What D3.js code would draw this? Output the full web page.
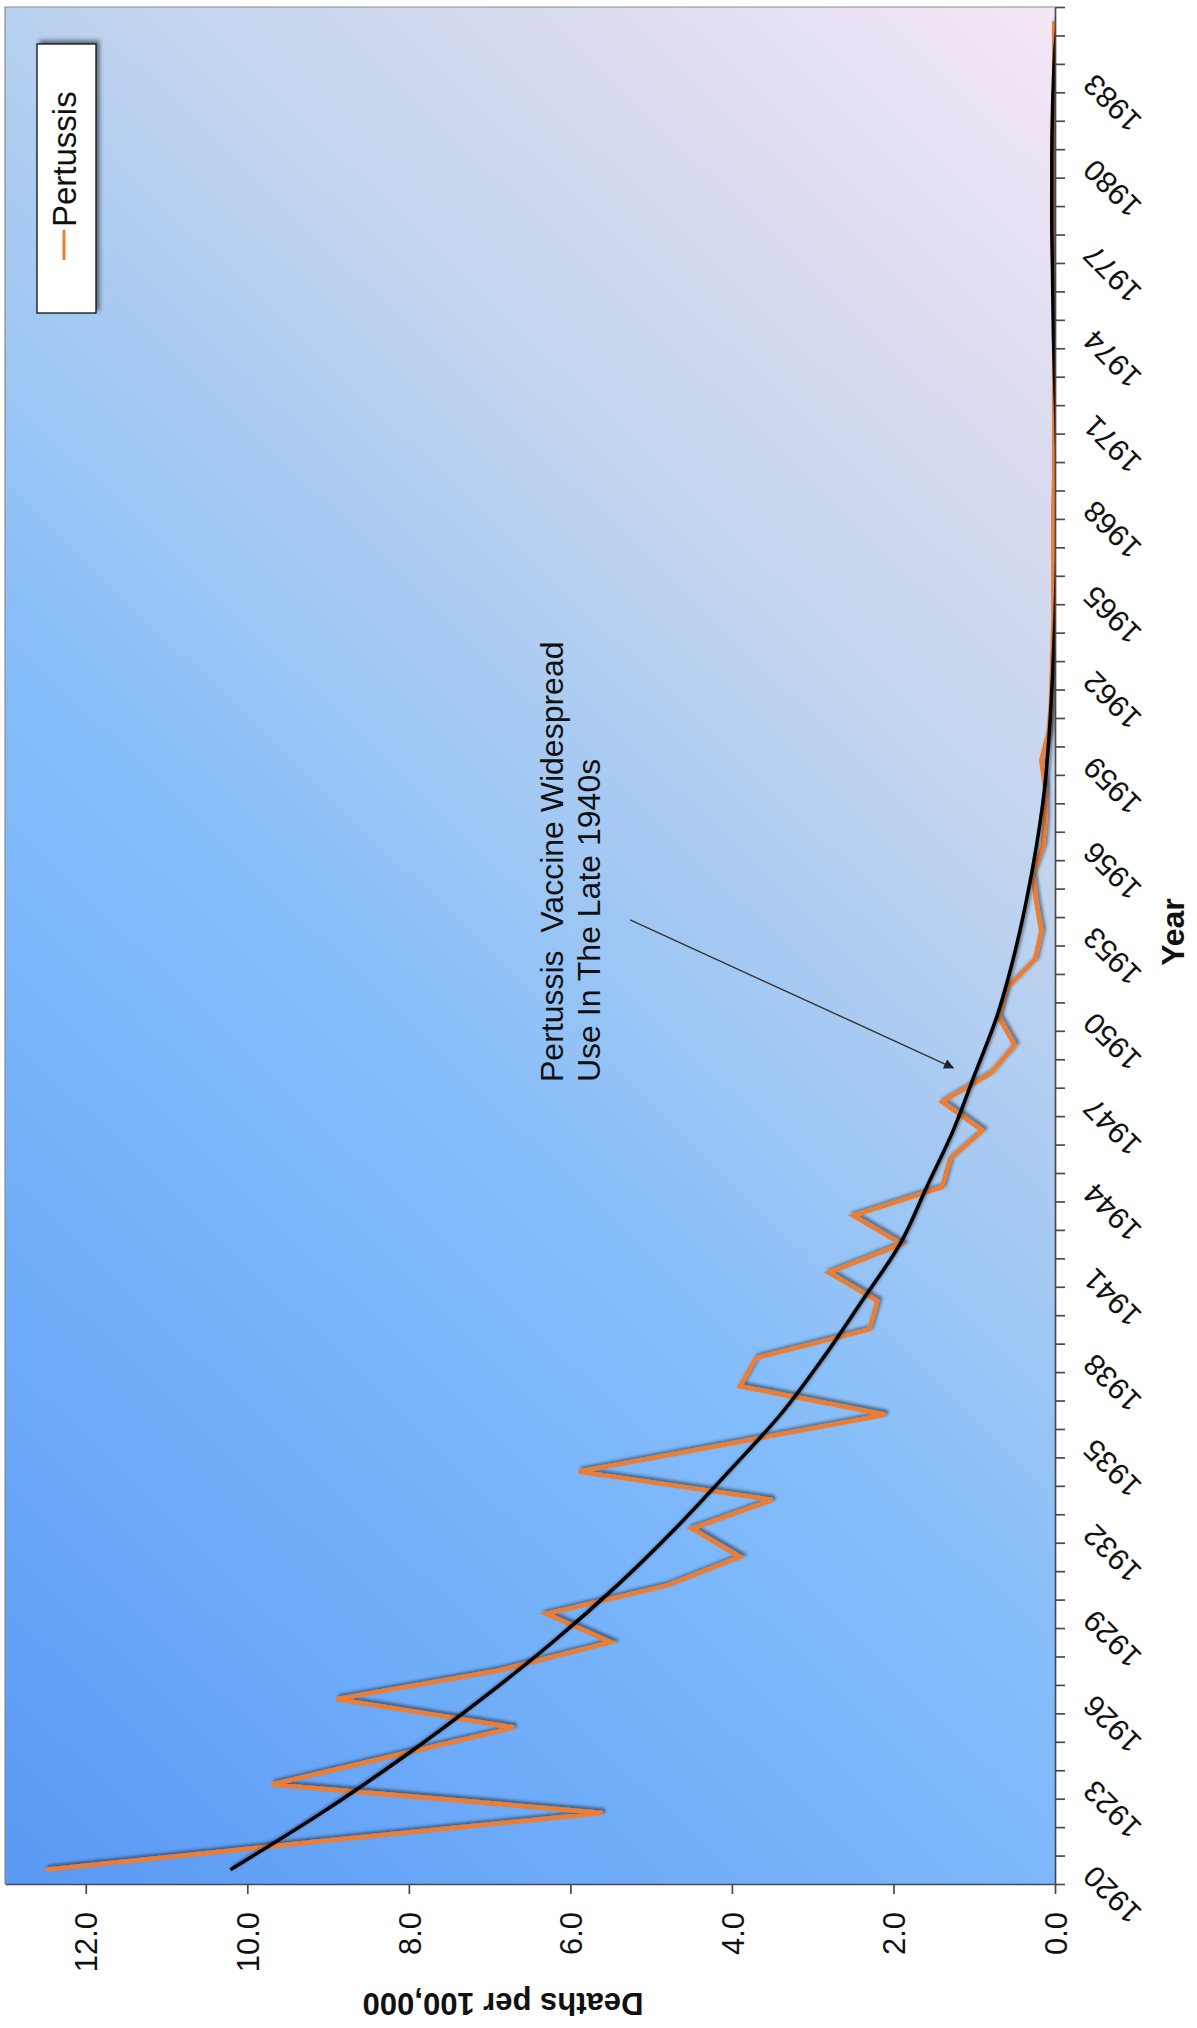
<!DOCTYPE html>
<html><head><meta charset="utf-8">
<script src="https://cdn.jsdelivr.net/npm/d3@7"></script>
<style>
body{margin:0;background:#fff;}
svg text{font-family:"Liberation Sans",Arial,sans-serif;}
</style>
</head><body><div id="chart"></div>
<script>
// ---------- data ----------
const years = [1920,1921,1922,1923,1924,1925,1926,1927,1928,1929,
  1930,1931,1932,1933,1934,1935,1936,1937,1938,1939,
  1940,1941,1942,1943,1944,1945,1946,1947,1948,1949,
  1950,1951,1952,1953,1954,1955,1956,1957,1958,1959,
  1960,1961,1962,1963,1964,1965,1966,1967,1968,1969,
  1970,1971,1972,1973,1974,1975,1976,1977,1978,1979,
  1980,1981,1982,1983,1984,1985];
const pertussis = [12.5,9.1,5.6,9.7,8.2,6.7,8.9,6.9,5.5,6.3,
  4.8,3.9,4.5,3.5,5.9,4.0,2.1,3.9,3.7,2.3,
  2.2,2.8,1.9,2.5,1.4,1.3,0.9,1.4,0.8,0.5,
  0.7,0.6,0.25,0.17,0.23,0.28,0.15,0.12,0.12,0.17,
  0.08,0.05,0.04,0.03,0.02,0.02,0.02,0.02,0.02,0.01,
  0.01,0.01,0.01,0.01,0.01,0.01,0.01,0.01,0.01,0.01,
  0.01,0.01,0.01,0.01,0.01,0.01];
const trendYears = [1920,1922,1924,1926,1928,1930,1932,1934,1936,1938,
  1940,1942,1944,1946,1948,1950,1952,1954,1956,1958,
  1960,1962,1964,1966,1968,1970,1972,1974,1976,1978,
  1980,1982,1984,1985];
const trendValues = [10.21,9.08,8.05,7.1,6.22,5.42,4.7,4.04,3.4,2.87,
  2.39,1.92,1.59,1.26,0.99,0.72,0.52,0.36,0.23,0.13,
  0.07,0.03,0.0,-0.02,-0.03,-0.02,0.0,0.02,0.03,0.04,
  0.04,0.03,0.0,-0.03];
const valueTicks = [0,2,4,6,8,10,12];
const yearLabels = [1920,1923,1926,1929,1932,1935,1938,1941,1944,1947,1950,
  1953,1956,1959,1962,1965,1968,1971,1974,1977,1980,1983];
const seriesName = "Pertussis";
const annotationLines = ["Pertussis  Vaccine Widespread","Use In The Late 1940s"];
const valueTitle = "Deaths per 100,000";
const yearTitle = "Year";

// ---------- layout ----------
const W = 1197, H = 2028;
const plot = {left:5, right:1055, top:7, bottom:1884};
const FONT = '"Liberation Sans",Arial,sans-serif';

const svg = d3.select("#chart").append("svg").attr("width", W).attr("height", H);
const defs = svg.append("defs");

const grad = defs.append("linearGradient").attr("id","bg")
  .attr("gradientUnits","userSpaceOnUse")
  .attr("x1",plot.left).attr("y1",plot.bottom).attr("x2",1448).attr("y2",385);
[[0,"#5a99f4"],[0.3,"#78b4fa"],[0.42,"#84bdfa"],[0.55,"#a2c8f3"],
 [0.7,"#c3d5ee"],[0.85,"#dcdcf0"],[1,"#f6e7f6"]].forEach(([o,c]) =>
  grad.append("stop").attr("offset",o).attr("stop-color",c));

defs.append("clipPath").attr("id","clip").append("rect")
  .attr("x",plot.left).attr("y",plot.top)
  .attr("width",plot.right-plot.left).attr("height",plot.bottom-plot.top);

const sh = defs.append("filter").attr("id","shadow")
  .attr("x","-10%").attr("y","-10%").attr("width","120%").attr("height","120%");
sh.append("feDropShadow").attr("dx",2.5).attr("dy",-2.5).attr("stdDeviation",1.8)
  .attr("flood-color","#000").attr("flood-opacity",0.45);
const sh2 = defs.append("filter").attr("id","boxshadow")
  .attr("x","-30%").attr("y","-10%").attr("width","160%").attr("height","120%");
sh2.append("feDropShadow").attr("dx",3).attr("dy",-3).attr("stdDeviation",2)
  .attr("flood-color","#000").attr("flood-opacity",0.5);

const arrowMarker = defs.append("marker").attr("id","arrow")
  .attr("viewBox","0 0 10 10").attr("refX",9).attr("refY",5)
  .attr("markerWidth",12).attr("markerHeight",10).attr("markerUnits","userSpaceOnUse")
  .attr("orient","auto");
arrowMarker.append("path").attr("d","M0,0L10,5L0,10Z").attr("fill","#222");

// scales
const x = d3.scaleLinear().domain([0,13]).range([plot.right, plot.left]);
const yb = d3.scaleBand().domain(years).range([plot.bottom, plot.top]);
const yc = d => yb(d) + yb.bandwidth()/2;
const yIdx = d3.scaleLinear().domain([0, years.length]).range([plot.bottom, plot.top]);

// plot background
svg.append("rect").attr("x",plot.left).attr("y",plot.top)
  .attr("width",plot.right-plot.left).attr("height",plot.bottom-plot.top)
  .attr("fill","url(#bg)");
svg.append("path")
  .attr("d",`M${plot.left},${plot.bottom}V${plot.top}H${plot.right}`)
  .attr("fill","none").attr("stroke","#8a8a8a").attr("stroke-width",1.2);

// series
const lines = svg.append("g").attr("clip-path","url(#clip)");
const series = years.map((yr,i) => ({year:yr, v:pertussis[i]}));
lines.append("path").datum(series)
  .attr("fill","none").attr("stroke","#ed7d31").attr("stroke-width",4.5)
  .attr("stroke-linejoin","miter").attr("filter","url(#shadow)")
  .attr("d", d3.line().x(d => x(d.v)).y(d => yc(d.year)));

const trend = trendYears.map((yr,i) => ({year:yr, v:trendValues[i]}));
lines.append("path").datum(trend)
  .attr("fill","none").attr("stroke","#000").attr("stroke-width",3.5)
  .attr("filter","url(#shadow)")
  .attr("d", d3.line().x(d => x(d.v)).y(d => yc(d.year)).curve(d3.curveMonotoneY));

// year axis (right side)
const yearAxis = svg.append("g").attr("transform",`translate(${plot.right},0)`)
  .call(d3.axisRight(yIdx).tickValues(d3.range(0, years.length+1))
    .tickSize(10).tickSizeOuter(0).tickFormat(""));
yearAxis.selectAll("path,line").attr("stroke","#4a4a4a").attr("stroke-width",1.7);

svg.append("g").selectAll("text").data(yearLabels).join("text")
  .attr("transform", d => `translate(${plot.right+41},${yc(d)-6}) rotate(-135)`)
  .attr("text-anchor","end").attr("font-size",30).attr("fill","#111")
  .text(d => d);

// value axis (bottom)
const valAxis = svg.append("g").attr("transform",`translate(0,${plot.bottom})`)
  .call(d3.axisBottom(x).tickValues(valueTicks).tickSize(10).tickSizeOuter(0)
    .tickFormat(d3.format(".1f")));
valAxis.attr("font-family",FONT).attr("font-size",31);
valAxis.selectAll("path,line").attr("stroke","#4a4a4a").attr("stroke-width",1.7);
valAxis.selectAll("text").attr("x",null).attr("y",null).attr("dy","0.36em")
  .attr("text-anchor","end").attr("fill","#111")
  .attr("transform","translate(0,28) rotate(-90)");

// axis titles
svg.append("text")
  .attr("transform",`translate(503,1993) rotate(180)`)
  .attr("text-anchor","middle").attr("font-weight","bold").attr("font-size",31)
  .attr("fill","#111").text(valueTitle);
svg.append("text")
  .attr("transform",`translate(1184,932) rotate(-90)`)
  .attr("text-anchor","middle").attr("font-weight","bold").attr("font-size",32)
  .attr("fill","#111").text(yearTitle);

// legend
const lg = svg.append("g");
lg.append("rect").attr("x",37).attr("y",44).attr("width",59).attr("height",269)
  .attr("fill","#fff").attr("stroke","#111").attr("stroke-width",1.3)
  .attr("filter","url(#boxshadow)");
lg.append("line").attr("x1",64).attr("x2",64).attr("y1",260).attr("y2",230)
  .attr("stroke","#ed7d31").attr("stroke-width",3);
lg.append("text").attr("transform","translate(76,227) rotate(-90)")
  .attr("font-size",33).attr("fill","#111").text(seriesName);

// annotation
const ann = svg.append("g");
annotationLines.forEach((t,i) => {
  ann.append("text")
    .attr("transform",`translate(${x(6.09) + i*37},${yIdx(28.2)}) rotate(-90)`)
    .attr("font-size",32).attr("fill","#111").style("white-space","pre").text(t);
});
ann.append("line")
  .attr("x1",x(5.26)).attr("y1",yIdx(33.9))
  .attr("x2",x(1.26)).attr("y2",yIdx(28.7))
  .attr("stroke","#333").attr("stroke-width",1.4).attr("marker-end","url(#arrow)");
</script>
</body></html>
